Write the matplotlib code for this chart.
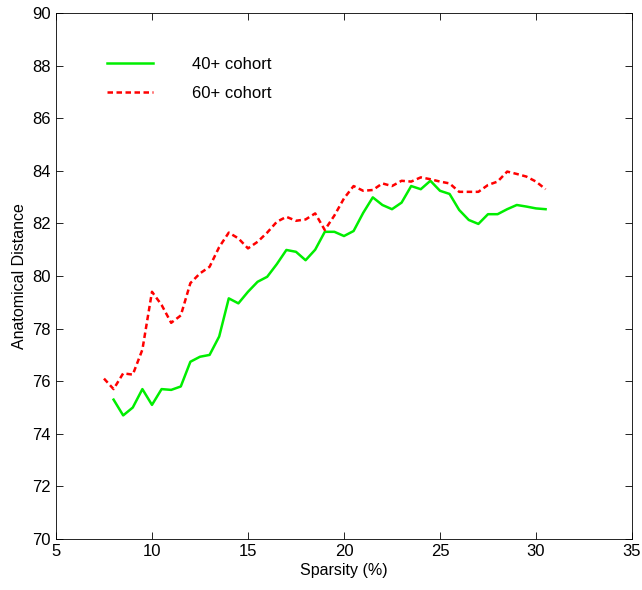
import matplotlib.pyplot as plt

plt.rcParams['font.family'] = ['Liberation Sans', 'DejaVu Sans']

# sparsity (%) and anatomical distance for each cohort
sparsity_40 = [8.0, 8.5, 9.0, 9.5, 10.0, 10.5, 11.0, 11.5, 12.0, 12.5, 13.0, 13.5,
               14.0, 14.5, 15.0, 15.5, 16.0, 16.5, 17.0, 17.5, 18.0, 18.5, 19.0,
               19.5, 20.0, 20.5, 21.0, 21.5, 22.0, 22.5, 23.0, 23.5, 24.0, 24.5,
               25.0, 25.5, 26.0, 26.5, 27.0, 27.5, 28.0, 28.5, 29.0, 29.5, 30.0, 30.5]
dist_40 = [75.3, 74.7, 75.0, 75.7, 75.1, 75.7, 75.67, 75.8, 76.74, 76.93, 77.0, 77.7,
           79.15, 78.96, 79.4, 79.78, 79.97, 80.45, 80.99, 80.92, 80.6, 81.0, 81.68,
           81.68, 81.52, 81.71, 82.4, 82.99, 82.7, 82.54, 82.79, 83.42, 83.3, 83.62,
           83.24, 83.12, 82.51, 82.13, 81.98, 82.35, 82.35, 82.54, 82.7, 82.64, 82.57, 82.54]

sparsity_60 = [7.5, 8.0, 8.5, 9.0, 9.5, 10.0, 10.5, 11.0, 11.5, 12.0, 12.5, 13.0,
               13.5, 14.0, 14.5, 15.0, 15.5, 16.0, 16.5, 17.0, 17.5, 18.0, 18.5,
               19.0, 19.5, 20.0, 20.5, 21.0, 21.5, 22.0, 22.5, 23.0, 23.5, 24.0,
               24.5, 25.0, 25.5, 26.0, 26.5, 27.0, 27.5, 28.0, 28.5, 29.0, 29.5, 30.0, 30.5]
dist_60 = [76.1, 75.7, 76.3, 76.25, 77.2, 79.4, 78.9, 78.22, 78.5, 79.73, 80.1, 80.35,
           81.1, 81.65, 81.43, 81.05, 81.3, 81.65, 82.06, 82.25, 82.1, 82.15, 82.38,
           81.75, 82.3, 82.95, 83.42, 83.24, 83.27, 83.52, 83.42, 83.62, 83.59, 83.75,
           83.68, 83.59, 83.52, 83.2, 83.2, 83.2, 83.46, 83.59, 83.97, 83.88, 83.78,
           83.59, 83.3]

fig = plt.figure(figsize=(6.42, 5.90), dpi=100)
ax = fig.add_axes([0.0872, 0.0864, 0.8972, 0.8916])

ax.plot(sparsity_40, dist_40, color='#00ee00', lw=1.8, label='40+ cohort')
ax.plot(sparsity_60, dist_60, color='#ff0000', lw=1.8, ls=(0, (2.2, 1.4)), label='60+ cohort')

ax.set_xlim(5, 35)
ax.set_ylim(70, 90)
ax.set_xticks(range(5, 36, 5))
ax.set_yticks(range(70, 91, 2))
ax.tick_params(direction='in', top=True, right=True, labelsize=12, length=5, width=0.6)
for s in ax.spines.values():
    s.set_linewidth(0.6)

ax.set_xlabel('Sparsity (%)', fontsize=11.5, labelpad=3)
ax.set_ylabel('Anatomical Distance', fontsize=11.5, labelpad=4)

ax.legend(loc='upper left', bbox_to_anchor=(0.062, 0.945), frameon=False,
          fontsize=12, handlelength=2.8, handletextpad=2.3, labelspacing=0.85)

fig.savefig('out.png', dpi=100)
